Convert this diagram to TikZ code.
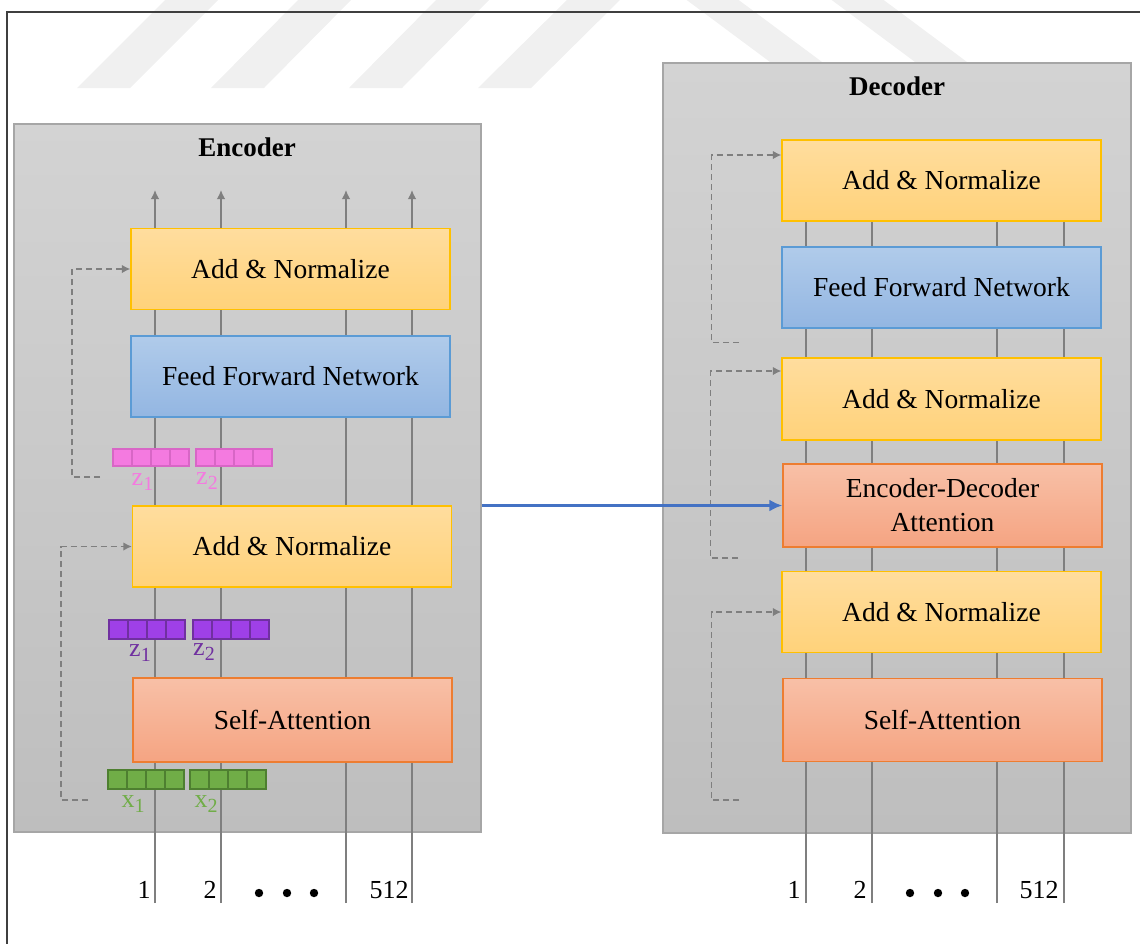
\documentclass[tikz,border=0pt]{standalone}
\usepackage{fontspec}
\setmainfont{Liberation Serif}
\usetikzlibrary{arrows.meta}

\definecolor{wmgray}{HTML}{F0F0F0}
\definecolor{framec}{HTML}{3F3F3F}
\definecolor{panelline}{HTML}{A6A6A6}
\definecolor{paneltop}{HTML}{D3D3D3}
\definecolor{panelbot}{HTML}{BEBEBE}
\definecolor{wirec}{HTML}{7F7F7F}
\definecolor{addtop}{HTML}{FFDD9E}
\definecolor{addbot}{HTML}{FFD27A}
\definecolor{addline}{HTML}{FFC000}
\definecolor{fftop}{HTML}{B0CBEA}
\definecolor{ffbot}{HTML}{93B6E2}
\definecolor{ffline}{HTML}{5B9BD5}
\definecolor{attop}{HTML}{F8C0A7}
\definecolor{atbot}{HTML}{F5A482}
\definecolor{atline}{HTML}{ED7D31}
\definecolor{pinkf}{HTML}{F47AE0}
\definecolor{pinkd}{HTML}{D866C6}
\definecolor{purpf}{HTML}{9F40E7}
\definecolor{purpd}{HTML}{7030A0}
\definecolor{greenf}{HTML}{70AD47}
\definecolor{greend}{HTML}{4E7F30}
\definecolor{linkblue}{HTML}{4472C4}

\begin{document}
\begin{tikzpicture}[x=1pt,y=-1pt,
  panel/.style={draw=panelline,line width=1.2pt,top color=paneltop,bottom color=panelbot,
    inner sep=0pt,minimum width=#1},
  title/.style={font=\fontsize{27}{30}\selectfont\bfseries},
  layer/.style={inner sep=0pt,minimum width=319pt,line width=1.3pt,
    font=\fontsize{27.5}{34}\selectfont,align=center},
  addbox/.style={layer,draw=addline,top color=addtop,bottom color=addbot},
  ffbox/.style={layer,draw=ffline,top color=fftop,bottom color=ffbot},
  atbox/.style={layer,draw=atline,top color=attop,bottom color=atbot},
  wire/.style={draw=wirec,line width=1.5pt},
  tipup/.style={-{Latex[length=9pt,width=8.5pt]}},
  resid/.style={draw=wirec,line width=1.5pt,dash pattern=on 6pt off 4pt,
    -{Latex[length=8.5pt,width=8.5pt]}},
  cell/.style={inner sep=0pt,minimum width=19pt,line width=1.1pt},
  vlabel/.style={inner sep=0pt,font=\fontsize{26}{26}\selectfont},
  num/.style={inner sep=0pt,anchor=base,font=\fontsize{26}{26}\selectfont},
  link/.style={draw=linkblue,line width=3pt,-{Latex[length=13pt,width=12pt]}}
]
\useasboundingbox (0,0) rectangle (1140,943);

% faint diagonal stripes along the top edge
\foreach \a/\b in {167/77,300/211,438/349,569/478}
  \fill[wmgray] (\a,-2) -- (\a+53,-2) -- (\b+53,88) -- (\b,88) -- cycle;
\foreach \a/\b in {684/805,829/950}
  \fill[wmgray] (\a,-2) -- (\a+52,-2) -- (\b+52,88) -- (\b,88) -- cycle;

% page frame
\draw[framec,line width=2pt] (7,12) rectangle (1170,970);

% the two stacks
\node[panel=467pt,minimum height=708pt] (enc) at (247.5,478) {};
\node[panel=468pt,minimum height=770pt] (dec) at (897,448) {};
\node[title] (enct) at (247,147) {Encoder};
\node[title] (dect) at (897,86) {Decoder};

% position wires
\foreach \n/\x in {1/155,2/221,3/346,4/412}{
  \coordinate (eb\n) at (\x,903);
  \coordinate (et\n) at (\x,190);
}
\foreach \n/\x in {1/806,2/872,3/997,4/1064}{
  \coordinate (db\n) at (\x,903);
  \coordinate (dt\n) at (\x,150);
}
\foreach \n in {1,...,4}{
  \draw[wire,tipup] (eb\n) -- (et\n);
  \draw[wire] (db\n) -- (dt\n);
}

% encoder layers
\node[addbox,minimum height=81pt] (ea1) at (290.5,269) {Add \& Normalize};
\node[ffbox,minimum height=81pt] (ef) at (290.5,376.5) {Feed Forward Network};
\node[addbox,minimum height=81pt] (ea2) at (292,546.5) {Add \& Normalize};
\node[atbox,minimum height=84pt] (es) at (292.5,720) {Self-Attention};

% decoder layers
\node[addbox,minimum height=81pt] (da1) at (941.5,180.5) {Add \& Normalize};
\node[ffbox,minimum height=81pt] (df) at (941.5,287.5) {Feed Forward Network};
\node[addbox,minimum height=82pt] (da2) at (941.5,399) {Add \& Normalize};
\node[atbox,minimum height=83pt] (dx) at (942.5,505.5) {Encoder-Decoder\\Attention};
\node[addbox,minimum height=81pt] (da3) at (941.5,612) {Add \& Normalize};
\node[atbox,minimum height=83pt] (ds) at (942.5,720) {Self-Attention};

% token vectors
\foreach \v/\xs/\yc/\h/\fc/\dc in {
    pa/113/457.5/17/pinkf/pinkd, pb/196/457.5/17/pinkf/pinkd,
    qa/109/629.5/19/purpf/purpd, qb/193/629.5/19/purpf/purpd,
    ga/108/779.5/19/greenf/greend, gb/190/779.5/19/greenf/greend}
  \foreach \i in {1,...,4}
    \node[cell,minimum height=\h pt,fill=\fc,draw=\dc] (\v\i) at ({\xs+19*(\i-0.5)},\yc) {};

\node[vlabel,text=pinkf] (lpa) at (142.5,482) {z\raisebox{-5pt}{\fontsize{20}{20}\selectfont 1}};
\node[vlabel,text=pinkf] (lpb) at (207,481) {z\raisebox{-5pt}{\fontsize{20}{20}\selectfont 2}};
\node[vlabel,text=purpd] (lqa) at (140,653) {z\raisebox{-5pt}{\fontsize{20}{20}\selectfont 1}};
\node[vlabel,text=purpd] (lqb) at (204,652) {z\raisebox{-5pt}{\fontsize{20}{20}\selectfont 2}};
\node[vlabel,text=greenf] (lga) at (133,804) {x\raisebox{-5pt}{\fontsize{20}{20}\selectfont 1}};
\node[vlabel,text=greenf] (lgb) at (206,804) {x\raisebox{-5pt}{\fontsize{20}{20}\selectfont 2}};

% residual connections
\coordinate (r1s) at (100,477);   \coordinate (r1c) at (72,477);
\coordinate (r2s) at (88,800);    \coordinate (r2c) at (61,800);
\coordinate (r3s) at (739,342.5); \coordinate (r3c) at (711.5,342.5);
\coordinate (r4s) at (738,558);   \coordinate (r4c) at (710.5,558);
\coordinate (r5s) at (739,800);   \coordinate (r5c) at (711.5,800);
\draw[resid] (r1s) -- (r1c) |- (ea1.west);
\draw[resid] (r2s) -- (r2c) |- (ea2.west);
\draw[resid] (r3s) -- (r3c) |- ([yshift=25.5pt]da1.west);
\draw[resid] (r4s) -- (r4c) |- ([yshift=28pt]da2.west);
\draw[resid] (r5s) -- (r5c) |- (da3.west);

% encoder output into the cross attention
\draw[link] (enc.east |- dx.west) -- (dx.west);

% position indices
\node[num] (ne1) at (144,898) {1};
\node[num] (ne2) at (210,898) {2};
\node[num] (ne3) at (389,898) {512};
\node[num] (nd1) at (794,898) {1};
\node[num] (nd2) at (860,898) {2};
\node[num] (nd3) at (1039,898) {512};
\foreach \x in {259,287,314,910,938,965}
  \fill (\x,893) circle (4.2);
\end{tikzpicture}
\end{document}
